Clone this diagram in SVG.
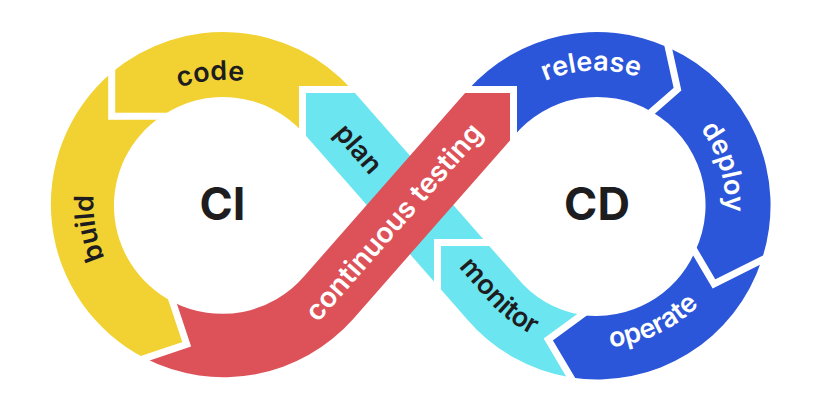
<svg xmlns="http://www.w3.org/2000/svg" width="820" height="410" viewBox="0 0 820 410">
<style>
.yellow{fill:#F2D233}
.red{fill:#DD5259}
.cyan{fill:#6BE6F0}
.blue{fill:#2C56D9}
.lbl{font-family:Inter,"Open Sans","DejaVu Sans",sans-serif;font-weight:600;font-size:27px}
.dark{fill:#1D1D1F}
.light{fill:#FFFFFF}
.big{font-family:Inter,"DejaVu Sans",sans-serif;font-weight:700;font-size:45px;fill:#1D1D1F}
.gap{fill:none;stroke:#FFFFFF;stroke-width:7;stroke-linejoin:miter;stroke-miterlimit:10}
</style>
<defs>
<path id="p-code" d="M109.2,153.1 A125,125 0 0 1 324.8,132.4"/>
<path id="p-build" d="M178.5,326.6 A129.5,129.5 0 0 1 139.9,105.6"/>
<path id="p-release" d="M479.2,143.2 A131.5,131.5 0 0 1 709.4,133.9"/>
<path id="p-deploy" d="M626.6,79.9 A128.5,128.5 0 0 1 690.5,293.1"/>
<path id="p-operate" d="M516.2,322.6 A142.7,142.7 0 0 0 739.3,216.2"/>
<path id="p-monitor" d="M422.1,225.6 L488.1,300.7 A145,145 0 0 0 622.2,347.8"/>
</defs>
<rect width="820" height="410" fill="#FFFFFF"/>

<g id="plan">
<path class="cyan" d="M486.2,242.5 L352.97,90.84 A173,173 0 0 0 351.8,89.5 L302.5,89.5 L302.5,131.9 A108,108 0 0 1 304.14,133.73 L437.5,285.5 L437.5,242.5 Z"/>
<text class="lbl dark" text-anchor="middle" transform="translate(351.6,154.8) rotate(48.7)">plan</text>
</g>
<g id="monitor">
<path class="cyan" d="M581.7,315 A108,108 0 0 1 515.86,276.27 L486.2,242.5 L437.5,242.5 L437.5,285.5 L467.03,319.16 A173,173 0 0 0 570.8,377.5 L548.3,339.5 Z"/>
<text class="lbl dark"><textPath href="#p-monitor" startOffset="105.6" text-anchor="middle">monitor</textPath></text>
</g>
<g id="code">
<path class="yellow" d="M351.8,89.5 A173,173 0 0 0 111.7,72.6 L111.7,116.2 L161.5,116.2 A108,108 0 0 1 302.5,131.9 L302.5,89.5 Z"/>
<text class="lbl dark"><textPath href="#p-code" startOffset="50%" text-anchor="middle">code</textPath></text>
</g>
<g id="build">
<path class="yellow" d="M111.7,72.6 A173,173 0 0 0 145,358.3 L186.7,344.2 L172.5,301.7 A108,108 0 0 1 161.5,116.2 L111.7,116.2 Z"/>
<text class="lbl dark"><textPath href="#p-build" startOffset="50%" text-anchor="middle">build</textPath></text>
</g>
<g id="release">
<path class="blue" d="M513.5,136.5 A108,108 0 0 1 651.7,111.7 L677.5,89.2 L668.3,47.5 A173,173 0 0 0 468.2,89.5 L513.5,89.5 Z"/>
<text class="lbl light"><textPath href="#p-release" startOffset="50%" text-anchor="middle">release</textPath></text>
</g>
<g id="deploy">
<path class="blue" d="M651.7,111.7 A108,108 0 0 1 695,251.7 L714,284 L761.7,260 A173,173 0 0 0 668.3,47.5 L677.5,89.2 Z"/>
<text class="lbl light"><textPath href="#p-deploy" startOffset="50%" text-anchor="middle">deploy</textPath></text>
</g>
<g id="operate">
<path class="blue" d="M695,251.7 A108,108 0 0 1 581.7,315 L548.3,339.5 L570.8,377.5 A173,173 0 0 0 761.7,260 L714,284 Z"/>
<text class="lbl light"><textPath href="#p-operate" startOffset="50%" text-anchor="middle">operate</textPath></text>
</g>
<g id="continuous-testing">
<path class="red" d="M145,358.3 A173,173 0 0 0 352.97,319.16 L513.5,136.5 L513.5,89.5 L468.2,89.5 A173,173 0 0 0 467.03,90.84 L304.14,276.27 A108,108 0 0 1 172.5,301.7 L186.7,344.2 Z"/>
<text class="lbl light" style="font-size:28px" text-anchor="middle" transform="translate(400.9,228.3) rotate(-48.7)">continuous testing</text>
</g>

<g id="gaps">
<polyline class="gap" points="359.8,89.5 302.5,89.5 302.5,139.9"/>
<polyline class="gap" points="111.7,64.6 111.7,116.2 169.5,116.2"/>
<polyline class="gap" points="137.4,360.9 186.7,344.2 170,294.1"/>
<polyline class="gap" points="460.2,89.5 513.5,89.5 513.5,144.5"/>
<polyline class="gap" points="666.6,39.7 677.5,89.2 645.7,117"/>
<polyline class="gap" points="768.8,256.4 714,284 690.9,244.8"/>
<polyline class="gap" points="588.2,310.3 548.3,339.5 574.9,384.4"/>
<polyline class="gap" points="494.2,242.5 437.5,242.5 437.5,293.5"/>
</g>

<g id="CI"><text class="big" x="222.5" y="220.4" text-anchor="middle">CI</text></g>
<g id="CD"><text class="big" x="597" y="219.6" text-anchor="middle">CD</text></g>
</svg>
